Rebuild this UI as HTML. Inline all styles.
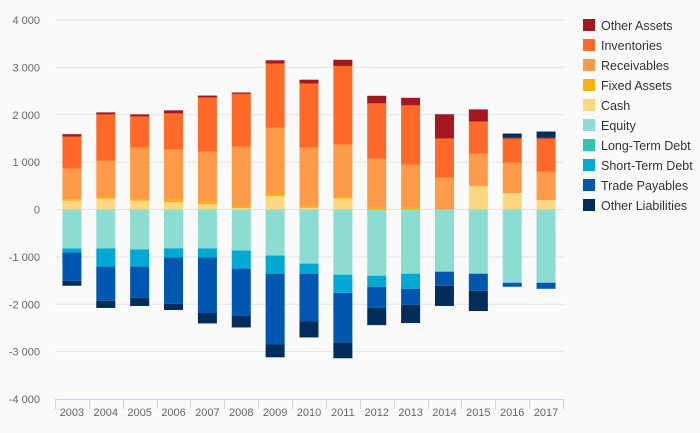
<!DOCTYPE html>
<html><head><meta charset="utf-8"><style>
body{margin:0;background:#fafafa;font-family:"Liberation Sans",sans-serif}
svg{display:block}
</style></head><body>
<svg id="chart" width="700" height="433">
<g id="grid"></g>
<g id="yaxis"></g>
<g id="bars"></g>
<g id="xaxis"></g>
<g id="legend"></g>
</svg>
<script>
const years=["2003","2004","2005","2006","2007","2008","2009","2010","2011","2012","2013","2014","2015","2016","2017"];
const yTicks=[4000,3000,2000,1000,0,-1000,-2000,-3000,-4000];
const cash=[185,227,185,156,113,28,284,35,227,0,0,0,496,348,199];
const fixedAssets=[30,28,28,50,50,43,43,35,21,35,35,10,21,0,0];
const receivables=[645,773,1092,1057,1057,1255,1404,1234,1121,1035,908,660,660,638,596];
const inventories=[680,979,660,766,1145,1114,1349,1356,1661,1170,1255,830,681,511,702];
const otherAssets=[50,43,43,64,40,30,70,80,130,160,160,511,255,21,21];
const equity=[-823,-823,-844,-823,-823,-865,-972,-1142,-1376,-1397,-1355,-1312,-1355,-1546,-1546];
const longTermDebt=[0,0,0,0,0,0,0,0,0,0,0,0,0,0,0];
const shortTermDebt=[-85,-383,-362,-191,-191,-383,-383,-213,-383,-234,-319,0,0,0,0];
const tradePayables=[-596,-723,-660,-979,-1170,-1000,-1495,-1008,-1051,-447,-340,-298,-362,-85,-128];
const otherLiabilities=[-106,-149,-170,-128,-221,-242,-270,-337,-330,-362,-383,-426,-426,85,128];

const series=[
 {name:"Cash",key:"cash",color:"#fdd681",data:cash},
 {name:"Fixed Assets",key:"fixed-assets",color:"#f9b10c",data:fixedAssets},
 {name:"Receivables",key:"receivables",color:"#ff9a48",data:receivables},
 {name:"Inventories",key:"inventories",color:"#ff6a28",data:inventories},
 {name:"Other Assets",key:"other-assets",color:"#a3171e",data:otherAssets},
 {name:"Equity",key:"equity",color:"#8ddcd2",data:equity},
 {name:"Long-Term Debt",key:"long-term-debt",color:"#2ec4b0",data:longTermDebt},
 {name:"Short-Term Debt",key:"short-term-debt",color:"#00a9d4",data:shortTermDebt},
 {name:"Trade Payables",key:"trade-payables",color:"#0057b0",data:tradePayables},
 {name:"Other Liabilities",key:"other-liabilities",color:"#002d5a",data:otherLiabilities}
];
const legendOrder=["other-assets","inventories","receivables","fixed-assets","cash","equity","long-term-debt","short-term-debt","trade-payables","other-liabilities"];

const NS="http://www.w3.org/2000/svg";
const X0=55,X1=563,YT=20,YB=399;
const yS=v=>YT+(4000-v)*(YB-YT)/8000;
const band=(X1-X0)/years.length;
const xS=i=>X0+band*i+band/2;
function mk(tag,attrs,parent){const e=document.createElementNS(NS,tag);for(const k in attrs)e.setAttribute(k,attrs[k]);parent.appendChild(e);return e;}

const grid=document.getElementById('grid'),ya=document.getElementById('yaxis');
yTicks.forEach(t=>{
 if(t>-4000){const l=mk('line',{x1:X0,x2:X1,y1:yS(t),y2:yS(t),stroke:'#e3e3e3','stroke-width':1},grid);
 
 }
 const tx=mk('text',{x:40,y:yS(t)+4,'text-anchor':'end','font-size':'11',fill:'#666'},ya);
 tx.textContent=t===0?"0":(t<0?"-":"")+Math.abs(t/1000)+" 000";
 
 
});

const bars=document.getElementById('bars');const bw=19;
years.forEach((yr,i)=>{
 let pos=0,neg=0;
 series.forEach(s=>{
  const v=s.data[i];if(!v)return;
  let a,b;
  if(v>0){a=pos;b=pos+v;pos=b;}else{a=neg;b=neg+v;neg=b;}
  const y1=yS(Math.max(a,b)),y2=yS(Math.min(a,b));
  const r=mk('rect',{x:xS(i)-bw/2,y:y1,width:bw,height:y2-y1,fill:s.color},bars);
  
  
 });
});

const xa=document.getElementById('xaxis');
const axl=mk('line',{x1:X0,x2:X1,y1:YB+0.5,y2:YB+0.5,stroke:'#ccd6eb','stroke-width':1},xa);


for(let i=0;i<=years.length;i++){
 const x=Math.round(X0+band*i)+0.5;
 const tk=mk('line',{x1:x,x2:x,y1:YB,y2:YB+10,stroke:'#ccd6eb'},xa);
 
 
}
years.forEach((yr,i)=>{
 const t=mk('text',{x:xS(i),y:416,'text-anchor':'middle','font-size':'11',fill:'#666'},xa);
 t.textContent=yr;
 
 
});

const lg=document.getElementById('legend');
legendOrder.forEach((k,j)=>{
 const s=series.find(q=>q.key===k);
 const g=mk('g',{},lg);
 
 
 const y=19+j*20;
 mk('rect',{x:583,y:y,width:12,height:12,fill:s.color},g);
 const t=mk('text',{x:601,y:y+11,'font-size':'12.5',fill:'#333'},g);
 t.textContent=s.name;
});
</script>
</body></html>
